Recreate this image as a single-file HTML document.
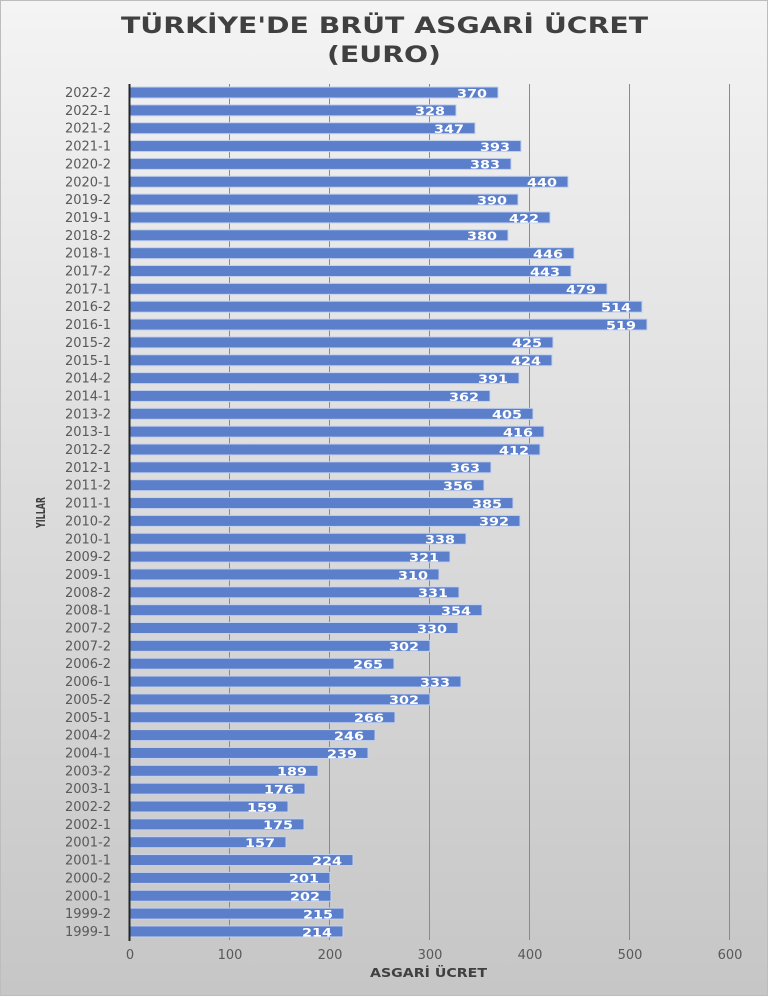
<!DOCTYPE html>
<html><head><meta charset="utf-8"><style>
html,body{margin:0;padding:0;}
svg{display:block;font-family:"DejaVu Sans","Liberation Sans",sans-serif;}
.t{font-size:13px;fill:#595959;text-anchor:end;}
.v{font-size:11.5px;fill:#fff;font-weight:bold;text-anchor:end;}
rect.b{fill:#5b7fcb;stroke:#c5d2ee;stroke-width:1;}
</style></head><body>
<svg width="768" height="996" xmlns="http://www.w3.org/2000/svg">
<defs><linearGradient id="bg" x1="0" y1="0" x2="0" y2="1"><stop offset="0" stop-color="#f4f4f4"/><stop offset="0.5" stop-color="#dcdcdc"/><stop offset="1" stop-color="#c6c6c6"/></linearGradient></defs>
<rect x="0.5" y="0.5" width="767" height="995" fill="url(#bg)" stroke="#bdbdbd"/>
<text x="121" y="33" font-size="22" font-weight="bold" fill="#404040" textLength="527" lengthAdjust="spacingAndGlyphs">TÜRKİYE'DE BRÜT ASGARİ ÜCRET</text>
<text x="327" y="62" font-size="22" font-weight="bold" fill="#404040" textLength="114" lengthAdjust="spacingAndGlyphs">(EURO)</text>
<g stroke="#8a8a8a" stroke-width="1">
<line x1="229.5" y1="84" x2="229.5" y2="940"/><line x1="329.5" y1="84" x2="329.5" y2="940"/><line x1="429.5" y1="84" x2="429.5" y2="940"/><line x1="529.5" y1="84" x2="529.5" y2="940"/><line x1="629.5" y1="84" x2="629.5" y2="940"/><line x1="729.5" y1="84" x2="729.5" y2="940"/>
</g>
<g>
<g transform="translate(0,92.5)"><rect class="b" x="130" y="-5.5" width="368" height="11"/><text class="t" x="111" y="4.5">2022-2</text><text class="v" x="487" y="4.8" textLength="30" lengthAdjust="spacingAndGlyphs">370</text></g>
<g transform="translate(0,110.35)"><rect class="b" x="130" y="-5.5" width="326" height="11"/><text class="t" x="111" y="4.5">2022-1</text><text class="v" x="445" y="4.8" textLength="30" lengthAdjust="spacingAndGlyphs">328</text></g>
<g transform="translate(0,128.2)"><rect class="b" x="130" y="-5.5" width="345" height="11"/><text class="t" x="111" y="4.5">2021-2</text><text class="v" x="464" y="4.8" textLength="30" lengthAdjust="spacingAndGlyphs">347</text></g>
<g transform="translate(0,146.05)"><rect class="b" x="130" y="-5.5" width="391" height="11"/><text class="t" x="111" y="4.5">2021-1</text><text class="v" x="510" y="4.8" textLength="30" lengthAdjust="spacingAndGlyphs">393</text></g>
<g transform="translate(0,163.9)"><rect class="b" x="130" y="-5.5" width="381" height="11"/><text class="t" x="111" y="4.5">2020-2</text><text class="v" x="500" y="4.8" textLength="30" lengthAdjust="spacingAndGlyphs">383</text></g>
<g transform="translate(0,181.75)"><rect class="b" x="130" y="-5.5" width="438" height="11"/><text class="t" x="111" y="4.5">2020-1</text><text class="v" x="557" y="4.8" textLength="30" lengthAdjust="spacingAndGlyphs">440</text></g>
<g transform="translate(0,199.6)"><rect class="b" x="130" y="-5.5" width="388" height="11"/><text class="t" x="111" y="4.5">2019-2</text><text class="v" x="507" y="4.8" textLength="30" lengthAdjust="spacingAndGlyphs">390</text></g>
<g transform="translate(0,217.45)"><rect class="b" x="130" y="-5.5" width="420" height="11"/><text class="t" x="111" y="4.5">2019-1</text><text class="v" x="539" y="4.8" textLength="30" lengthAdjust="spacingAndGlyphs">422</text></g>
<g transform="translate(0,235.3)"><rect class="b" x="130" y="-5.5" width="378" height="11"/><text class="t" x="111" y="4.5">2018-2</text><text class="v" x="497" y="4.8" textLength="30" lengthAdjust="spacingAndGlyphs">380</text></g>
<g transform="translate(0,253.15)"><rect class="b" x="130" y="-5.5" width="444" height="11"/><text class="t" x="111" y="4.5">2018-1</text><text class="v" x="563" y="4.8" textLength="30" lengthAdjust="spacingAndGlyphs">446</text></g>
<g transform="translate(0,271)"><rect class="b" x="130" y="-5.5" width="441" height="11"/><text class="t" x="111" y="4.5">2017-2</text><text class="v" x="560" y="4.8" textLength="30" lengthAdjust="spacingAndGlyphs">443</text></g>
<g transform="translate(0,288.85)"><rect class="b" x="130" y="-5.5" width="477" height="11"/><text class="t" x="111" y="4.5">2017-1</text><text class="v" x="596" y="4.8" textLength="30" lengthAdjust="spacingAndGlyphs">479</text></g>
<g transform="translate(0,306.7)"><rect class="b" x="130" y="-5.5" width="512" height="11"/><text class="t" x="111" y="4.5">2016-2</text><text class="v" x="631" y="4.8" textLength="30" lengthAdjust="spacingAndGlyphs">514</text></g>
<g transform="translate(0,324.55)"><rect class="b" x="130" y="-5.5" width="517" height="11"/><text class="t" x="111" y="4.5">2016-1</text><text class="v" x="636" y="4.8" textLength="30" lengthAdjust="spacingAndGlyphs">519</text></g>
<g transform="translate(0,342.4)"><rect class="b" x="130" y="-5.5" width="423" height="11"/><text class="t" x="111" y="4.5">2015-2</text><text class="v" x="542" y="4.8" textLength="30" lengthAdjust="spacingAndGlyphs">425</text></g>
<g transform="translate(0,360.25)"><rect class="b" x="130" y="-5.5" width="422" height="11"/><text class="t" x="111" y="4.5">2015-1</text><text class="v" x="541" y="4.8" textLength="30" lengthAdjust="spacingAndGlyphs">424</text></g>
<g transform="translate(0,378.1)"><rect class="b" x="130" y="-5.5" width="389" height="11"/><text class="t" x="111" y="4.5">2014-2</text><text class="v" x="508" y="4.8" textLength="30" lengthAdjust="spacingAndGlyphs">391</text></g>
<g transform="translate(0,395.95)"><rect class="b" x="130" y="-5.5" width="360" height="11"/><text class="t" x="111" y="4.5">2014-1</text><text class="v" x="479" y="4.8" textLength="30" lengthAdjust="spacingAndGlyphs">362</text></g>
<g transform="translate(0,413.8)"><rect class="b" x="130" y="-5.5" width="403" height="11"/><text class="t" x="111" y="4.5">2013-2</text><text class="v" x="522" y="4.8" textLength="30" lengthAdjust="spacingAndGlyphs">405</text></g>
<g transform="translate(0,431.65)"><rect class="b" x="130" y="-5.5" width="414" height="11"/><text class="t" x="111" y="4.5">2013-1</text><text class="v" x="533" y="4.8" textLength="30" lengthAdjust="spacingAndGlyphs">416</text></g>
<g transform="translate(0,449.5)"><rect class="b" x="130" y="-5.5" width="410" height="11"/><text class="t" x="111" y="4.5">2012-2</text><text class="v" x="529" y="4.8" textLength="30" lengthAdjust="spacingAndGlyphs">412</text></g>
<g transform="translate(0,467.35)"><rect class="b" x="130" y="-5.5" width="361" height="11"/><text class="t" x="111" y="4.5">2012-1</text><text class="v" x="480" y="4.8" textLength="30" lengthAdjust="spacingAndGlyphs">363</text></g>
<g transform="translate(0,485.2)"><rect class="b" x="130" y="-5.5" width="354" height="11"/><text class="t" x="111" y="4.5">2011-2</text><text class="v" x="473" y="4.8" textLength="30" lengthAdjust="spacingAndGlyphs">356</text></g>
<g transform="translate(0,503.05)"><rect class="b" x="130" y="-5.5" width="383" height="11"/><text class="t" x="111" y="4.5">2011-1</text><text class="v" x="502" y="4.8" textLength="30" lengthAdjust="spacingAndGlyphs">385</text></g>
<g transform="translate(0,520.9)"><rect class="b" x="130" y="-5.5" width="390" height="11"/><text class="t" x="111" y="4.5">2010-2</text><text class="v" x="509" y="4.8" textLength="30" lengthAdjust="spacingAndGlyphs">392</text></g>
<g transform="translate(0,538.75)"><rect class="b" x="130" y="-5.5" width="336" height="11"/><text class="t" x="111" y="4.5">2010-1</text><text class="v" x="455" y="4.8" textLength="30" lengthAdjust="spacingAndGlyphs">338</text></g>
<g transform="translate(0,556.6)"><rect class="b" x="130" y="-5.5" width="320" height="11"/><text class="t" x="111" y="4.5">2009-2</text><text class="v" x="439" y="4.8" textLength="30" lengthAdjust="spacingAndGlyphs">321</text></g>
<g transform="translate(0,574.45)"><rect class="b" x="130" y="-5.5" width="309" height="11"/><text class="t" x="111" y="4.5">2009-1</text><text class="v" x="428" y="4.8" textLength="30" lengthAdjust="spacingAndGlyphs">310</text></g>
<g transform="translate(0,592.3)"><rect class="b" x="130" y="-5.5" width="329" height="11"/><text class="t" x="111" y="4.5">2008-2</text><text class="v" x="448" y="4.8" textLength="30" lengthAdjust="spacingAndGlyphs">331</text></g>
<g transform="translate(0,610.15)"><rect class="b" x="130" y="-5.5" width="352" height="11"/><text class="t" x="111" y="4.5">2008-1</text><text class="v" x="471" y="4.8" textLength="30" lengthAdjust="spacingAndGlyphs">354</text></g>
<g transform="translate(0,628)"><rect class="b" x="130" y="-5.5" width="328" height="11"/><text class="t" x="111" y="4.5">2007-2</text><text class="v" x="447" y="4.8" textLength="30" lengthAdjust="spacingAndGlyphs">330</text></g>
<g transform="translate(0,645.85)"><rect class="b" x="130" y="-5.5" width="300" height="11"/><text class="t" x="111" y="4.5">2007-2</text><text class="v" x="419" y="4.8" textLength="30" lengthAdjust="spacingAndGlyphs">302</text></g>
<g transform="translate(0,663.7)"><rect class="b" x="130" y="-5.5" width="264" height="11"/><text class="t" x="111" y="4.5">2006-2</text><text class="v" x="383" y="4.8" textLength="30" lengthAdjust="spacingAndGlyphs">265</text></g>
<g transform="translate(0,681.55)"><rect class="b" x="130" y="-5.5" width="331" height="11"/><text class="t" x="111" y="4.5">2006-1</text><text class="v" x="450" y="4.8" textLength="30" lengthAdjust="spacingAndGlyphs">333</text></g>
<g transform="translate(0,699.4)"><rect class="b" x="130" y="-5.5" width="300" height="11"/><text class="t" x="111" y="4.5">2005-2</text><text class="v" x="419" y="4.8" textLength="30" lengthAdjust="spacingAndGlyphs">302</text></g>
<g transform="translate(0,717.25)"><rect class="b" x="130" y="-5.5" width="265" height="11"/><text class="t" x="111" y="4.5">2005-1</text><text class="v" x="384" y="4.8" textLength="30" lengthAdjust="spacingAndGlyphs">266</text></g>
<g transform="translate(0,735.1)"><rect class="b" x="130" y="-5.5" width="245" height="11"/><text class="t" x="111" y="4.5">2004-2</text><text class="v" x="364" y="4.8" textLength="30" lengthAdjust="spacingAndGlyphs">246</text></g>
<g transform="translate(0,752.95)"><rect class="b" x="130" y="-5.5" width="238" height="11"/><text class="t" x="111" y="4.5">2004-1</text><text class="v" x="357" y="4.8" textLength="30" lengthAdjust="spacingAndGlyphs">239</text></g>
<g transform="translate(0,770.8)"><rect class="b" x="130" y="-5.5" width="188" height="11"/><text class="t" x="111" y="4.5">2003-2</text><text class="v" x="307" y="4.8" textLength="30" lengthAdjust="spacingAndGlyphs">189</text></g>
<g transform="translate(0,788.65)"><rect class="b" x="130" y="-5.5" width="175" height="11"/><text class="t" x="111" y="4.5">2003-1</text><text class="v" x="294" y="4.8" textLength="30" lengthAdjust="spacingAndGlyphs">176</text></g>
<g transform="translate(0,806.5)"><rect class="b" x="130" y="-5.5" width="158" height="11"/><text class="t" x="111" y="4.5">2002-2</text><text class="v" x="277" y="4.8" textLength="30" lengthAdjust="spacingAndGlyphs">159</text></g>
<g transform="translate(0,824.35)"><rect class="b" x="130" y="-5.5" width="174" height="11"/><text class="t" x="111" y="4.5">2002-1</text><text class="v" x="293" y="4.8" textLength="30" lengthAdjust="spacingAndGlyphs">175</text></g>
<g transform="translate(0,842.2)"><rect class="b" x="130" y="-5.5" width="156" height="11"/><text class="t" x="111" y="4.5">2001-2</text><text class="v" x="275" y="4.8" textLength="30" lengthAdjust="spacingAndGlyphs">157</text></g>
<g transform="translate(0,860.05)"><rect class="b" x="130" y="-5.5" width="223" height="11"/><text class="t" x="111" y="4.5">2001-1</text><text class="v" x="342" y="4.8" textLength="30" lengthAdjust="spacingAndGlyphs">224</text></g>
<g transform="translate(0,877.9)"><rect class="b" x="130" y="-5.5" width="200" height="11"/><text class="t" x="111" y="4.5">2000-2</text><text class="v" x="319" y="4.8" textLength="30" lengthAdjust="spacingAndGlyphs">201</text></g>
<g transform="translate(0,895.75)"><rect class="b" x="130" y="-5.5" width="201" height="11"/><text class="t" x="111" y="4.5">2000-1</text><text class="v" x="320" y="4.8" textLength="30" lengthAdjust="spacingAndGlyphs">202</text></g>
<g transform="translate(0,913.6)"><rect class="b" x="130" y="-5.5" width="214" height="11"/><text class="t" x="111" y="4.5">1999-2</text><text class="v" x="333" y="4.8" textLength="30" lengthAdjust="spacingAndGlyphs">215</text></g>
<g transform="translate(0,931.45)"><rect class="b" x="130" y="-5.5" width="213" height="11"/><text class="t" x="111" y="4.5">1999-1</text><text class="v" x="332" y="4.8" textLength="30" lengthAdjust="spacingAndGlyphs">214</text></g>
</g>
<line x1="129.5" y1="84" x2="129.5" y2="941" stroke="#262626" stroke-width="2"/>
<g font-size="13" fill="#595959" text-anchor="middle">
<text x="130" y="959">0</text><text x="230" y="959">100</text><text x="330" y="959">200</text><text x="430" y="959">300</text><text x="530" y="959">400</text><text x="630" y="959">500</text><text x="730" y="959">600</text>
</g>
<text x="370" y="977" font-size="12" font-weight="bold" fill="#404040" textLength="117" lengthAdjust="spacingAndGlyphs">ASGARİ ÜCRET</text>
<text transform="translate(45,528) rotate(-90)" font-size="12" font-weight="bold" fill="#404040" textLength="31" lengthAdjust="spacingAndGlyphs">YILLAR</text>
</svg>
</body></html>
